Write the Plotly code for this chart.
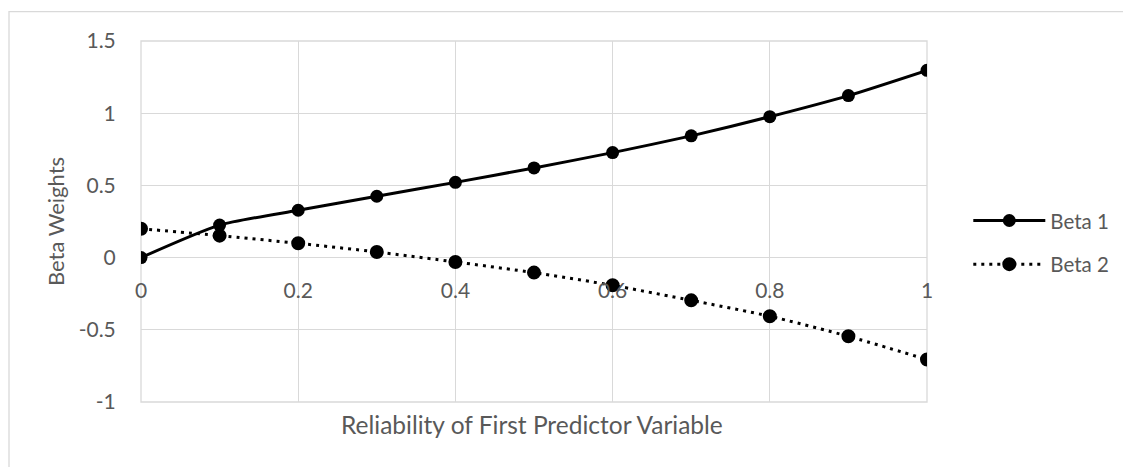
import plotly.graph_objects as go

x_vals = [0, 0.1, 0.2, 0.3, 0.4, 0.5, 0.6, 0.7, 0.8, 0.9, 1.0]
beta1 = [0.0, 0.225, 0.328, 0.425, 0.521, 0.621, 0.727, 0.843, 0.976, 1.122, 1.297]
beta2 = [0.2, 0.152, 0.099, 0.039, -0.03, -0.104, -0.192, -0.296, -0.406, -0.545, -0.706]
x_ticks = [0, 0.2, 0.4, 0.6, 0.8, 1]
x_ticktext = ["0", "0.2", "0.4", "0.6", "0.8", "1"]
y_ticks = [-1, -0.5, 0, 0.5, 1, 1.5]
y_ticktext = ["-1", "-0.5", "0", "0.5", "1", "1.5"]

FONT = "Lato"
GRAY = "#595959"
GRID = "#d9d9d9"

# page body has an 8px margin
OFF = 8
W, H = 1131 - OFF, 467 - OFF
PL, PR, PT, PB = 140.7, 926.7, 41.3, 402.3  # plot edges in window pixels
L, R, T, B = PL - OFF, 1131 - PR, PT - OFF, 467 - PB
pw = PR - PL
ph = PB - PT


def px(X):
    return (X - PL) / pw


def py(Y):
    return (PB - Y) / ph


fig = go.Figure()
fig.add_trace(go.Scatter(
    x=x_vals, y=beta1, name="Beta 1", mode="lines+markers",
    line=dict(color="black", width=3, shape="spline", smoothing=0.6),
    marker=dict(symbol="circle", size=13, color="black"),
    legendgroup="b1",
))
fig.add_trace(go.Scatter(
    x=x_vals, y=beta2, name="Beta 2", mode="lines+markers",
    line=dict(color="black", width=3, dash="3px,5px", shape="spline", smoothing=0.6),
    marker=dict(symbol="circle", size=12, color="black", line=dict(color="black", width=2)),
    legendgroup="b2",
))

fig.update_layout(
    width=W, height=H,
    margin=dict(l=L, r=R, t=T, b=B, autoexpand=False),
    paper_bgcolor="white", plot_bgcolor="white",
    font=dict(family=FONT, size=21, color=GRAY),
    xaxis=dict(
        range=[0, 1], tickvals=x_ticks, ticktext=x_ticktext,
        showgrid=True, gridcolor=GRID, gridwidth=1.3,
        zeroline=False, showline=False,
        anchor="free", position=py(258),
        ticks="outside", ticklen=14, tickcolor="rgba(0,0,0,0)",
        tickfont=dict(family=FONT, size=21, color=GRAY),
    ),
    yaxis=dict(
        range=[-1, 1.5], tickvals=y_ticks, ticktext=y_ticktext,
        showgrid=True, gridcolor=GRID, gridwidth=1.3,
        zeroline=False, showline=False,
        ticks="outside", ticklen=20, tickcolor="rgba(0,0,0,0)",
        tickfont=dict(family=FONT, size=21, color=GRAY),
        title=dict(text="Beta Weights", font=dict(family=FONT, size=22, color=GRAY), standoff=7),
    ),
    showlegend=True,
    legend=dict(
        x=px(968), y=py(201), xanchor="left", yanchor="top",
        itemwidth=72, tracegroupgap=14, bgcolor="rgba(0,0,0,0)",
        font=dict(family=FONT, size=20.5, color=GRAY),
    ),
    shapes=[
        dict(type="rect", xref="paper", yref="paper",
             x0=px(OFF + 0.7), x1=px(1131 + 20),
             y0=py(467 + 20), y1=py(12),
             line=dict(color=GRID, width=1.3), layer="below"),
        dict(type="rect", xref="paper", yref="paper", x0=0, x1=1, y0=0, y1=1,
             line=dict(color=GRID, width=1.3), layer="below"),
    ],
    annotations=[
        dict(text="Reliability of First Predictor Variable", xref="paper", yref="paper",
             x=px(531.5), y=py(425), xanchor="center", yanchor="middle",
             showarrow=False, font=dict(family=FONT, size=24.5, color=GRAY)),
    ],
)

fig.write_html("out.html")
